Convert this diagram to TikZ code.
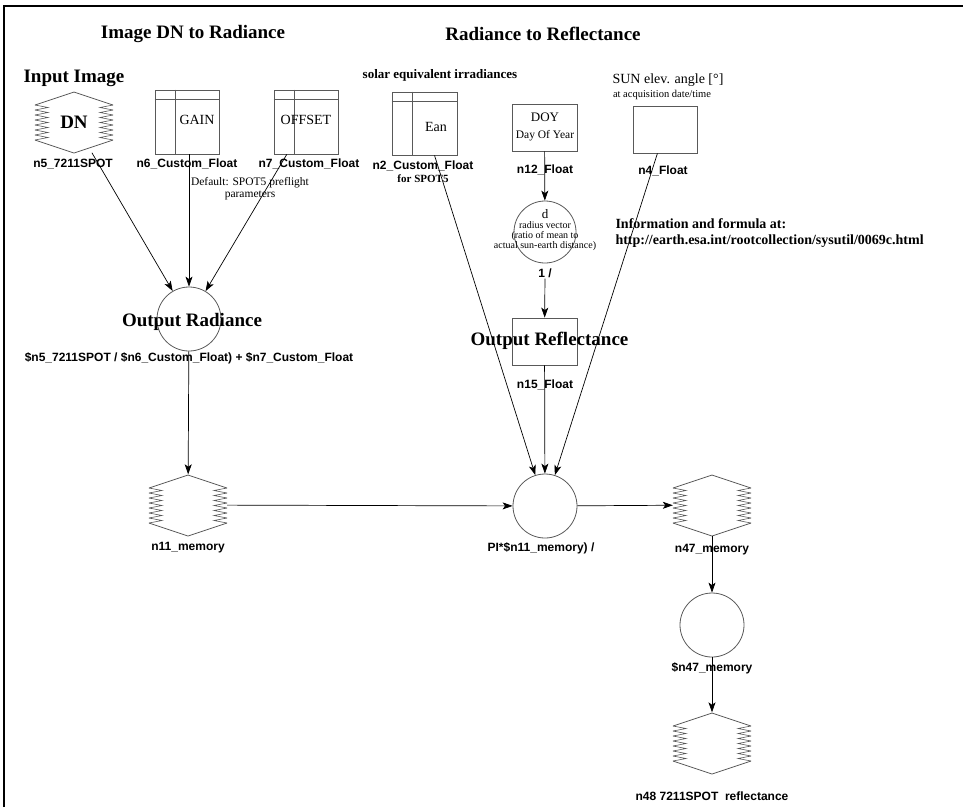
\documentclass[tikz,border=0pt]{standalone}
\usepackage{fontspec}
\setmainfont{Liberation Serif}
\setsansfont{Liberation Sans}
\usepackage{tikz}
\usetikzlibrary{arrows.meta}

\newcommand{\fsz}[1]{\fontsize{#1}{#1}\selectfont}

% zigzag sides of the image/memory nodes
\newcommand{\zigsides}[1]{%
  \draw[outline,shift={(#1.center)}] (-39,-17) -- (0,-30) -- (39,-17)
    (-39,18) -- (0,31) -- (39,18);
  \foreach \k in {0,...,6}
    \draw[outline,line width=0.6pt,shift={(#1.center)}]
      (-39,{-17+5*\k}) -- (-26,{-14.5+5*\k}) -- (-39,{-12+5*\k})
      (39,{-17+5*\k}) -- (26,{-14.5+5*\k}) -- (39,{-12+5*\k});
}
% table lines inside the float boxes
\newcommand{\tablelines}[1]{%
  \draw[outline] ([yshift=-10pt]#1.north west) -- ([yshift=-10pt]#1.north east)
    ([xshift=21pt]#1.north west) -- ([xshift=21pt]#1.south west);
}

\tikzset{
  outline/.style={draw=black!65, line width=0.8pt},
  floatbox/.style={outline, rectangle, inner sep=0pt},
  memnode/.style={rectangle, minimum width=78pt, minimum height=61pt, inner sep=0pt},
  opnode/.style={outline, circle, minimum size=64pt, inner sep=0pt},
  nlabel/.style={font=\sffamily\bfseries\fsz{12}, inner sep=1pt},
  heading/.style={font=\bfseries\fsz{19}},
  flow/.style={-{Stealth[length=10pt,width=7pt,inset=2.5pt]}, line width=0.7pt},
}

\begin{document}
\begin{tikzpicture}[x=1pt,y=-1pt]
\useasboundingbox (0,0) rectangle (963,807);
% frame
\draw[line width=2.5pt] (4,807) -- (4,6) -- (963,6);

% headings
\node[heading] (hdnrad) at (193,34) {Image DN to Radiance};
\node[heading] (hradref) at (543,34) {Radiance to Reflectance};

%	image DN to radiance
\node[heading] (inimg) at (74,78) {Input Image};
\node[memnode,heading] (n5) at (74,122) {DN};
\zigsides{n5}
\node[nlabel] (n5lab) at (73,164) {n5\_7211SPOT};

\node[floatbox, minimum width=64pt, minimum height=64pt] (n6) at (187,122) {};
\tablelines{n6}
\node[font=\fsz{14}] (gain) at (197,120) {GAIN};
\node[nlabel] (n6lab) at (187,164) {n6\_Custom\_Float};

\node[floatbox, minimum width=64pt, minimum height=64pt] (n7) at (306,122) {};
\tablelines{n7}
\node[font=\fsz{14}] (offset) at (306,120) {OFFSET};
\node[nlabel] (n7lab) at (309,164) {n7\_Custom\_Float};

\node[font=\fontsize{11.5}{12}\selectfont, align=center] (deflt) at (250,189) {Default: SPOT5 preflight\\parameters};

\node[opnode] (rad) at (189,319) {};
\node[heading] (radtxt) at (192,322) {Output Radiance};
\node[nlabel] (radlab) at (189,358) {\$n5\_7211SPOT / \$n6\_Custom\_Float) + \$n7\_Custom\_Float};

\node[memnode] (n11) at (188,505) {};
\zigsides{n11}
\node[nlabel] (n11lab) at (188,548) {n11\_memory};

%	radiance to reflectance
\node[font=\bfseries\fsz{13}] (solar) at (440,75) {solar equivalent irradiances};
\node[floatbox, minimum width=65pt, minimum height=63pt] (n2) at (424.5,123.5) {};
\tablelines{n2}
\node[font=\fsz{14}] (ean) at (436,127) {Ean};
\node[nlabel] (n2lab) at (423,166) {n2\_Custom\_Float};
\node[font=\bfseries\fsz{11}] (spot5) at (423,179) {for SPOT5};

\node[floatbox, minimum width=65pt, minimum height=47pt] (n12) at (544.5,127.5) {};
\node[font=\fsz{13}] (doy) at (545,117) {DOY};
\node[font=\fsz{11.5}] (doyname) at (545,136) {Day Of Year};
\node[nlabel] (n12lab) at (545,170) {n12\_Float};

\node[opnode, minimum size=62pt] (dist) at (545,232) {};
\node[font=\fsz{13}] (dsym) at (545,214) {d};
\node[font=\fsz{10}, align=center] (dtxt) at (545,236) {radius vector\\(ratio of mean to\\actual sun-earth distance)};
\node[nlabel] (distlab) at (545,273) {1 /};

\node[floatbox, minimum width=65pt, minimum height=47pt] (n15) at (544.5,341.5) {};
\node[heading] (reftxt) at (549.5,341) {Output Reflectance};
\node[nlabel] (n15lab) at (545,385) {n15\_Float};

\node[font=\fsz{14}] (sun) at (668,80) {SUN elev. angle [°]};
\node[font=\fsz{10.5}] (acq) at (662,95) {at acquisition date/time};
\node[floatbox, minimum width=64pt, minimum height=47pt] (n4) at (665,129.5) {};
\node[nlabel] (n4lab) at (663,171) {n4\_Float};

\node[font=\bfseries\fontsize{14}{16}\selectfont, align=left, anchor=west] (info) at (612,233)
  {Information and formula at:\\http://earth.esa.int/rootcollection/sysutil/0069c.html};

\node[opnode] (pi) at (545,506) {};
\node[nlabel] (pilab) at (541,548) {PI*\$n11\_memory) /};

\node[memnode] (n47) at (712,505) {};
\zigsides{n47}
\node[nlabel] (n47lab) at (712,550) {n47\_memory};
\node[opnode] (scl) at (712,625) {};
\node[nlabel] (scllab) at (712,668) {\$n47\_memory};
\node[memnode] (n48) at (712,743) {};
\zigsides{n48}
\node[nlabel] (n48lab) at (712,796) {n48 7211SPOT\ \ reflectance};

% connectors
\draw[flow] (n5) -- (rad);
\draw[flow] (n6.south -| rad) -- (rad);
\draw[flow] (n7) -- (rad);
\draw[flow] (rad) -- (n11);
\draw[flow] (n11) -- (pi);
\draw[flow] (n12) -- (dist);
\draw[flow] (distlab) -- (n15);
\draw[flow] (n2) -- (pi);
\draw[flow] (n15) -- (pi);
\draw[flow] (n4) -- (pi);
\draw[flow] (pi) -- (n47);
\draw[flow] (n47) -- (scl);
\draw[flow] (scl) -- (n48);
\end{tikzpicture}
\end{document}
